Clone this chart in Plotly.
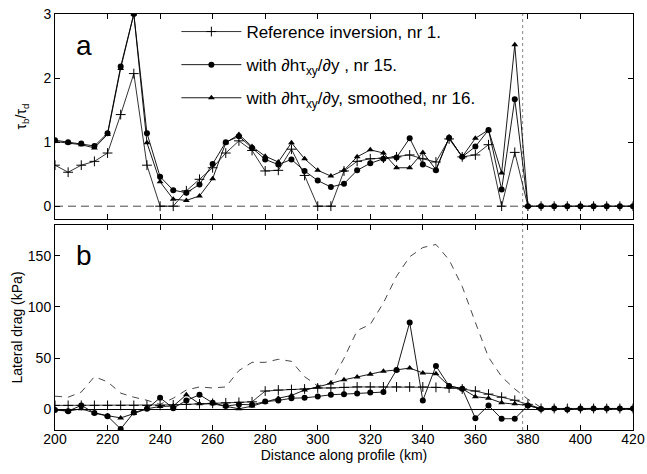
import plotly.graph_objects as go

# ---------------- data ----------------
x_km = [200, 205, 210, 215, 220, 225, 230, 235, 240, 245,
        250, 255, 260, 265, 270, 275, 280, 285, 290, 295,
        300, 305, 310, 315, 320, 325, 330, 335, 340, 345,
        350, 355, 360, 365, 370, 375, 380, 385, 390, 395,
        400, 405, 410, 415, 420]

# panel a: tau_b / tau_d
top_ref = [0.64, 0.53, 0.64, 0.70, 0.83, 1.43, 2.07, 0.64, 0.00, 0.00,
           0.24, 0.42, 0.60, 0.83, 1.02, 0.87, 0.55, 0.56, 0.89, 0.48,
           0.00, 0.00, 0.55, 0.70, 0.74, 0.75, 0.77, 0.80, 0.74, 0.69,
           1.05, 0.77, 0.80, 0.96, 0.00, 0.84, 0.00, 0, 0, 0,
           0, 0, 0, 0, 0]
top_nr15 = [1.03, 1.00, 0.98, 0.94, 1.14, 2.18, 3.00, 1.14, 0.46, 0.25,
            0.21, 0.34, 0.66, 1.00, 1.09, 0.91, 0.73, 0.65, 0.73, 0.55,
            0.40, 0.30, 0.35, 0.56, 0.67, 0.74, 0.76, 1.06, 0.65, 0.56,
            1.07, 0.77, 0.93, 1.19, 0.26, 1.67, 0.00, 0, 0, 0,
            0, 0, 0, 0, 0]
top_nr16 = [1.01, 0.99, 0.96, 0.91, 1.12, 2.15, 3.00, 0.99, 0.38, 0.11,
            0.09, 0.16, 0.43, 0.99, 1.12, 0.93, 0.78, 0.69, 0.99, 0.74,
            0.56, 0.47, 0.56, 0.77, 0.88, 0.83, 0.60, 0.60, 0.84, 0.57,
            1.07, 0.77, 1.06, 1.19, 0.52, 2.52, 0.00, None, None, None,
            None, None, None, None, None]

# panel b: lateral drag (kPa)
bot_ref = [4, 4, 4, 4, 4, 4, 4, 4, 4, 4.5,
           5, 5.5, 6, 6.5, 7, 7.5, 18, 19, 19.5, 20,
           21, 21, 21.6, 22, 22, 22, 22, 22, 22, 21.6,
           21, 20, 18, 15, 12, 9, 5, 1, 1, 1,
           1, 1, 1, 1, 1]
bot_nr15 = [-0.5, -1.6, 4, -3.3, -6.5, -19, -3, 0.7, 11.4, 1.3,
            8.8, 14.4, 6.5, 3.3, 5, 4.6, 7.8, 8.8, 11, 11.4,
            12.7, 14.4, 15, 15.7, 16.7, 17, 38.6, 85, 8.8, 42.5,
            23, 20.3, -8.5, 3.9, -9, -9, 4, 0.5, 1, 0,
            1, 1, 1, 1, 1]
bot_nr16 = [0, -1.6, 0.7, -3.3, -6, -8.2, -4, 0.7, 3, 3.3,
            14.4, 5.5, 5.5, 3.3, 0.7, 3.3, 7.2, 11, 13.7, 19,
            22, 25.8, 29, 31.7, 34.3, 37.3, 38.6, 40.5, 35.6, 35,
            23, 20.3, 12.5, 11, 6.5, 5.5, 4, 0.5, None, None,
            None, None, None, None, None]
bot_dashed = [13, 12, 17, 32, 27, 16, 12, 9, 5, 11,
              19, 22, 21, 22, 38, 46, 46, 49, 47, 32,
              23, 26, 50, 77, 83, 104, 130, 149, 158, 161,
              146, 120, 85, 51, 32, 20, 10, 2, 0, 0,
              0, 0, 0, 0, 0]

boundary_km = 378
x_ticks = [200, 220, 240, 260, 280, 300, 320, 340, 360, 380, 400, 420]
top_ticks = [0, 1, 2, 3]
bot_ticks = [0, 50, 100, 150]

names = ["Reference inversion, nr 1.",
         "with \u2202h\u03c4<sub>xy</sub>/\u2202y , nr 15.",
         "with \u2202h\u03c4<sub>xy</sub>/\u2202y, smoothed, nr 16."]

# ---------------- figure ----------------
FONT = "Liberation Sans, Arial, sans-serif"
fig = go.Figure()

ref_style = dict(mode="lines+markers", line=dict(color="black", width=0.8),
                 marker=dict(symbol="cross-thin", size=7, line=dict(color="black", width=1)))
tri_style = dict(mode="lines+markers", line=dict(color="black", width=0.9),
                 marker=dict(symbol="triangle-up", size=6, color="black"))
cir_style = dict(mode="lines+markers", line=dict(color="black", width=0.9),
                 marker=dict(symbol="circle", size=6, color="black"))

fig.add_trace(go.Scatter(x=x_km, y=top_ref, name=names[0], legendgroup="g1",
                         xaxis="x", yaxis="y", **ref_style))
fig.add_trace(go.Scatter(x=x_km, y=top_nr15, name=names[1], legendgroup="g2",
                         xaxis="x", yaxis="y", **cir_style))
fig.add_trace(go.Scatter(x=x_km, y=top_nr16, name=names[2], legendgroup="g3",
                         xaxis="x", yaxis="y", **tri_style))

fig.add_trace(go.Scatter(x=x_km, y=bot_dashed, mode="lines", showlegend=False,
                         line=dict(color="#333333", width=0.9, dash="7px,6px"),
                         xaxis="x2", yaxis="y2"))
fig.add_trace(go.Scatter(x=x_km, y=bot_ref, showlegend=False, xaxis="x2", yaxis="y2", **ref_style))
fig.add_trace(go.Scatter(x=x_km, y=bot_nr16, showlegend=False, xaxis="x2", yaxis="y2", **tri_style))
fig.add_trace(go.Scatter(x=x_km, y=bot_nr15, showlegend=False, xaxis="x2", yaxis="y2", **cir_style))

axis_common = dict(showline=True, linecolor="black", linewidth=1, mirror="ticks",
                   ticks="inside", ticklen=5, tickcolor="black", showgrid=False,
                   zeroline=False, automargin=False,
                   tickfont=dict(size=14, color="black", family=FONT))

fig.update_layout(
    width=647, height=474,
    margin=dict(l=55, r=14, t=14, b=44, autoexpand=False),
    paper_bgcolor="white", plot_bgcolor="white",
    font=dict(family=FONT, size=14, color="black"),
    xaxis=dict(domain=[0, 1], range=[200, 420], anchor="y", tickvals=x_ticks,
               showticklabels=False, **axis_common),
    yaxis=dict(domain=[0.5072, 1], range=[-0.2, 3], anchor="x", tickvals=top_ticks,
               title=dict(text="\u03c4<sub>b</sub>/\u03c4<sub>d</sub>", standoff=13,
                          font=dict(size=14)), **axis_common),
    xaxis2=dict(domain=[0, 1], range=[200, 420], anchor="y2", tickvals=x_ticks,
                ticklabelstandoff=-4,
                title=dict(text="Distance along profile (km)", standoff=1,
                           font=dict(size=14)), **axis_common),
    yaxis2=dict(domain=[0, 0.4928], range=[-20, 180], anchor="x2", tickvals=bot_ticks,
                title=dict(text="Lateral drag (kPa)", standoff=1, font=dict(size=14)),
                **axis_common),
    legend=dict(x=0.21, y=1.0, xanchor="left", yanchor="top",
                bgcolor="rgba(0,0,0,0)", borderwidth=0, itemwidth=60,
                tracegroupgap=8, font=dict(size=17, family=FONT, color="black")),
    showlegend=True,
)

# zero line in panel b (solid) and panel a (dashed)
fig.update_yaxes(selector=dict(anchor="x2"), zeroline=True, zerolinecolor="black", zerolinewidth=1)
fig.add_shape(type="line", xref="x domain", yref="y", x0=0, x1=1, y0=0, y1=0,
              line=dict(color="#333333", width=0.9, dash="8px,5px"), layer="below")
# boundary dotted line across both panels
fig.add_shape(type="line", xref="x", yref="paper", x0=boundary_km, x1=boundary_km, y0=0, y1=1,
              line=dict(color="#888888", width=1, dash="dot"), layer="below")

fig.add_annotation(text="a", xref="x domain", yref="y domain", x=0.05, y=0.845,
                   xanchor="center", yanchor="middle",
                   showarrow=False, font=dict(size=28, family=FONT, color="black"))
fig.add_annotation(text="b", xref="x2 domain", yref="y2 domain", x=0.05, y=0.85,
                   xanchor="center", yanchor="middle",
                   showarrow=False, font=dict(size=28, family=FONT, color="black"))

fig.write_html("out.html", config={"displayModeBar": False},
               post_script="document.body.style.margin='0px';")
